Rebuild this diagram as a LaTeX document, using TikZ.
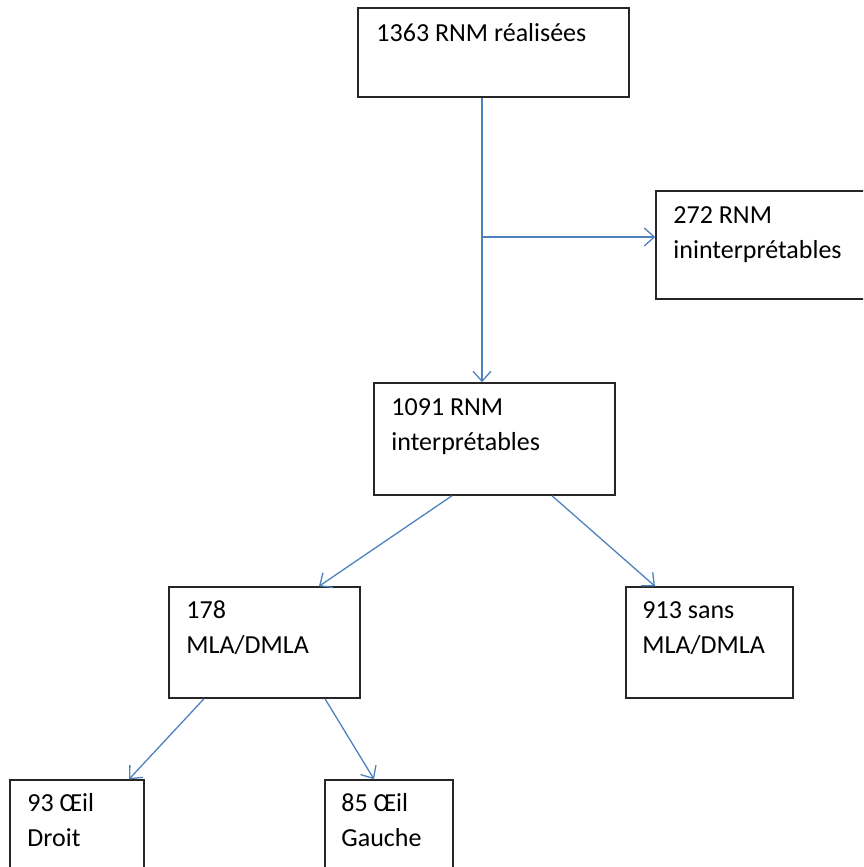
\documentclass[tikz,border=0pt]{standalone}
\usepackage{fontspec}
\setmainfont{Carlito}
\usetikzlibrary{arrows.meta}
\definecolor{linkblue}{HTML}{4F81BD}
\begin{document}
\begin{tikzpicture}[x=1pt, y=-1pt,
    box/.style={draw=black!85, line width=1.5pt, inner sep=0pt},
    txt/.style={anchor=base west, align=left, inner sep=0pt, font=\fontsize{26}{35}\selectfont},
    link/.style={linkblue, line width=1.3pt, -{Straight Barb[length=10pt, width=18pt, line width=1.3pt]}}]
    % Page frame
    \useasboundingbox (0,0) rectangle (863,867);
    \clip (0,0) rectangle (863,867);
    % Boxes
    \node[box, minimum width=271pt, minimum height=89pt] (realisees) at (493.5,52.5) {};
    \node[box, minimum width=224pt, minimum height=108pt] (ininterp) at (768,245) {};
    \node[box, minimum width=241pt, minimum height=112pt] (interp) at (494.5,439) {};
    \node[box, minimum width=191pt, minimum height=111pt] (mla) at (264.5,642.5) {};
    \node[box, minimum width=167pt, minimum height=111pt] (sansmla) at (709.5,642.5) {};
    \node[box, minimum width=134pt, minimum height=120pt] (droit) at (77,840) {};
    \node[box, minimum width=128pt, minimum height=120pt] (gauche) at (389,840) {};
    % Texts (top left of each box, anchored on the last line)
    \node[txt] (realisees-t) at ([shift={(19,34)}]realisees.north west) {1363 RNM réalisées};
    \node[txt] (ininterp-t) at ([shift={(18,68)}]ininterp.north west) {272 RNM\\ininterprétables};
    \node[txt] (interp-t) at ([shift={(18,68)}]interp.north west) {1091 RNM\\interprétables};
    \node[txt] (mla-t) at ([shift={(18,67)}]mla.north west) {178\\MLA/DMLA};
    \node[txt] (sansmla-t) at ([shift={(17,67)}]sansmla.north west) {913 sans\\MLA/DMLA};
    \node[txt] (droit-t) at ([shift={(18,67)}]droit.north west) {93 Œil\\Droit};
    \node[txt] (gauche-t) at ([shift={(17,67)}]gauche.north west) {85 Œil\\Gauche};
    % Trunk and side branch
    \coordinate (trunk) at (482,0);
    \coordinate (fork) at (482,237);
    \draw[link] (realisees.south -| trunk) -- (interp.north -| trunk);
    \draw[link] (fork) -- (fork -| ininterp.west);
    % Split arrows
    \draw[link] ([xshift=-42.5pt]interp.south) -- ([xshift=54.5pt]mla.north);
    \draw[link] ([xshift=57.5pt]interp.south) -- ([xshift=-54.5pt]sansmla.north);
    \draw[link] ([xshift=-60.5pt]mla.south) -- ([xshift=52pt]droit.north);
    \draw[link] ([xshift=60.5pt]mla.south) -- ([xshift=-15pt]gauche.north);
\end{tikzpicture}
\end{document}
